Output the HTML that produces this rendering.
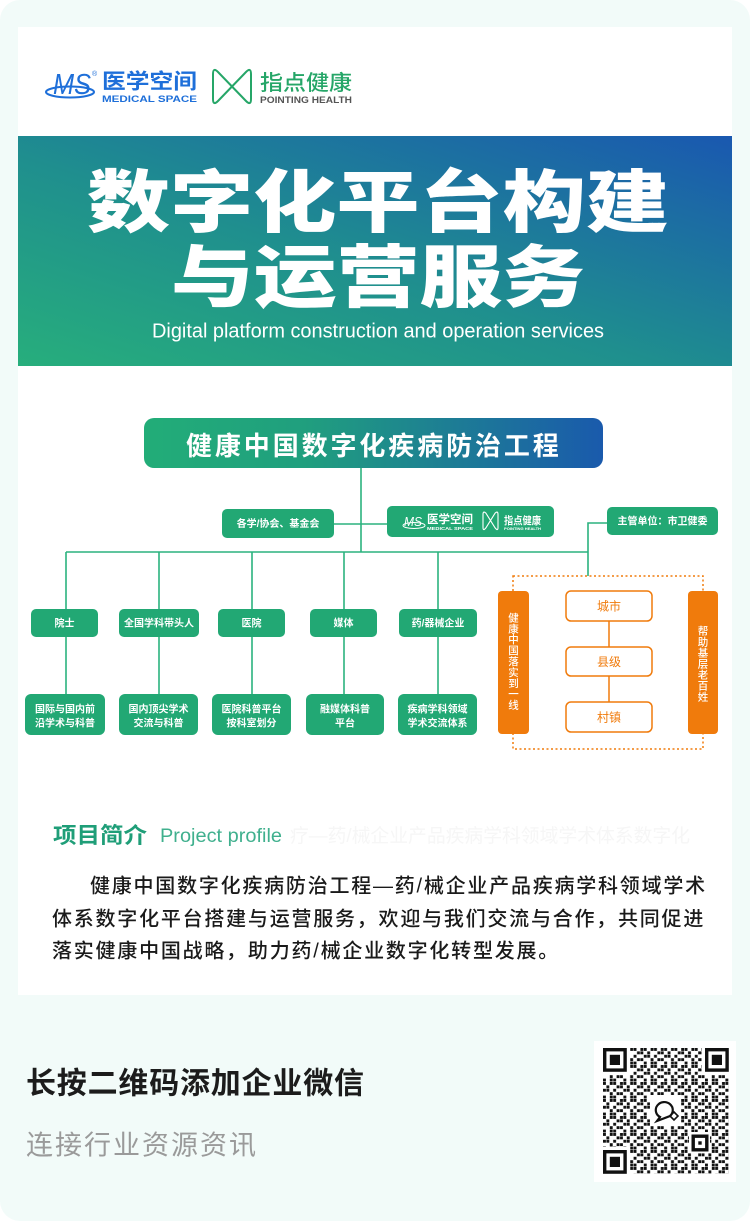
<!DOCTYPE html>
<html><head><meta charset="utf-8"><style>
html,body{margin:0;padding:0;background:#fff;}
svg{display:block;}
text{font-family:"Liberation Sans","Noto Sans CJK SC",sans-serif;}
</style></head><body>
<svg width="750" height="1221" viewBox="0 0 750 1221" xmlns="http://www.w3.org/2000/svg">
<defs>
<linearGradient id="ban" x1="0" y1="1" x2="1" y2="0">
<stop offset="0" stop-color="#27ae7c"/><stop offset="0.45" stop-color="#1f8f8e"/><stop offset="1" stop-color="#1a58b0"/>
</linearGradient>
<linearGradient id="tbox" x1="0" y1="0" x2="1" y2="0">
<stop offset="0" stop-color="#22ad78"/><stop offset="0.35" stop-color="#209f7e"/><stop offset="1" stop-color="#1a5aac"/>
</linearGradient>
<pattern id="qr" x="603" y="1048" width="20.4" height="17" patternUnits="userSpaceOnUse">
<g fill="#111">
<rect x="0" y="0" width="2.9" height="2.9"/><rect x="6.8" y="0" width="2.9" height="2.9"/><rect x="10.2" y="0" width="2.9" height="2.9"/><rect x="17" y="0" width="2.9" height="2.9"/>
<rect x="3.4" y="3.4" width="2.9" height="2.9"/><rect x="13.6" y="3.4" width="2.9" height="2.9"/><rect x="17" y="3.4" width="2.9" height="2.9"/>
<rect x="0" y="6.8" width="2.9" height="2.9"/><rect x="3.4" y="6.8" width="2.9" height="2.9"/><rect x="10.2" y="6.8" width="2.9" height="2.9"/>
<rect x="6.8" y="10.2" width="2.9" height="2.9"/><rect x="13.6" y="10.2" width="2.9" height="2.9"/><rect x="17" y="10.2" width="2.9" height="2.9"/>
<rect x="0" y="13.6" width="2.9" height="2.9"/><rect x="6.8" y="13.6" width="2.9" height="2.9"/><rect x="10.2" y="13.6" width="2.9" height="2.9"/>
</g>
</pattern>
</defs>

<!-- page background -->
<rect x="0" y="0" width="750" height="1221" rx="20" fill="#f2fbf9"/>
<!-- card -->
<rect x="18" y="27" width="714" height="968" fill="#ffffff"/>

<!-- top logos -->
<g>
<ellipse cx="70" cy="92" rx="24" ry="5.5" fill="none" stroke="#1e6fd9" stroke-width="2"/>
<text x="53" y="94" font-size="29" fill="#1e6fd9" textLength="38" lengthAdjust="spacingAndGlyphs" font-style="italic">MS</text>
<text x="92" y="76" font-size="7" fill="#1e6fd9">®</text>
<text x="102" y="88.5" font-size="21" font-weight="700" fill="#1e6fd9" textLength="95" lengthAdjust="spacingAndGlyphs">医学空间</text>
<text x="102" y="102" font-size="9.5" font-weight="700" fill="#1e6fd9" textLength="95" lengthAdjust="spacingAndGlyphs">MEDICAL SPACE</text>
<path d="M213,74 Q213,67 218,72 L246,101 Q251,106 251,99 L251,74 Q251,67 246,72 L218,101 Q213,106 213,99 Z" fill="none" stroke="#26a668" stroke-width="2"/>
<text x="260" y="90" font-size="21" fill="#26a668" font-weight="500" textLength="92" lengthAdjust="spacingAndGlyphs">指点健康</text>
<text x="260" y="103" font-size="9.5" font-weight="700" fill="#555" textLength="92" lengthAdjust="spacingAndGlyphs">POINTING HEALTH</text>
</g>

<!-- banner -->
<rect x="18" y="136" width="714" height="230" fill="url(#ban)"/>
<text x="87" y="226.5" font-size="68" font-weight="900" fill="#ffffff" textLength="582" lengthAdjust="spacingAndGlyphs">数字化平台构建</text>
<text x="171" y="301.5" font-size="68" font-weight="900" fill="#ffffff" textLength="414" lengthAdjust="spacingAndGlyphs">与运营服务</text>
<text x="152" y="337.5" font-size="20" fill="#ffffff" textLength="452" lengthAdjust="spacingAndGlyphs">Digital platform construction and operation services</text>

<!-- diagram title -->
<rect x="144" y="418" width="459" height="50" rx="10" fill="url(#tbox)"/>
<text x="186" y="455" font-size="26" font-weight="700" fill="#ffffff" letter-spacing="2.9">健康中国数字化疾病防治工程</text>

<!-- connectors -->
<g stroke="#2bb27f" stroke-width="1.6" fill="none">
<line x1="361" y1="468" x2="361" y2="552"/>
<line x1="334" y1="524" x2="387" y2="524"/>
<line x1="66" y1="552" x2="588" y2="552"/>
<polyline points="588,576 588,523 607,523"/>
<line x1="66" y1="552" x2="66" y2="609"/>
<line x1="159" y1="552" x2="159" y2="609"/>
<line x1="252" y1="552" x2="252" y2="609"/>
<line x1="344" y1="552" x2="344" y2="609"/>
<line x1="438" y1="552" x2="438" y2="609"/>
<line x1="66" y1="637" x2="66" y2="694"/>
<line x1="159" y1="637" x2="159" y2="694"/>
<line x1="252" y1="637" x2="252" y2="694"/>
<line x1="344" y1="637" x2="344" y2="694"/>
<line x1="438" y1="637" x2="438" y2="694"/>
</g>

<!-- level 1 boxes -->
<g fill="#22a874">
<rect x="222" y="509" width="112" height="29" rx="5"/>
<rect x="387" y="506" width="167" height="31" rx="5"/>
<rect x="607" y="507" width="111" height="28" rx="5"/>
</g>
<text x="278" y="527.2" font-size="10" font-weight="700" fill="#fff" text-anchor="middle">各学/协会、基金会</text>
<text x="662.5" y="524.7" font-size="10" font-weight="700" fill="#fff" text-anchor="middle">主管单位：市卫健委</text>
<!-- mini logo -->
<g>
<ellipse cx="414" cy="525.5" rx="11" ry="3" fill="none" stroke="#fff" stroke-width="1"/>
<text x="404" y="526" font-size="13" fill="#fff" textLength="18" lengthAdjust="spacingAndGlyphs" font-style="italic">MS</text>
<text x="427" y="523" font-size="11.5" font-weight="700" fill="#fff" textLength="46" lengthAdjust="spacingAndGlyphs">医学空间</text>
<text x="427" y="530" font-size="4.5" font-weight="700" fill="#fff" textLength="46" lengthAdjust="spacingAndGlyphs">MEDICAL SPACE</text>
<path d="M483,514.5 Q483,510.5 485.8,513 L495.2,528 Q498,531.5 498,527.5 L498,514.5 Q498,510.5 495.2,513 L485.8,528 Q483,531.5 483,527.5 Z" fill="none" stroke="#fff" stroke-width="1.1"/>
<text x="504" y="524" font-size="10.5" font-weight="700" fill="#fff" textLength="37" lengthAdjust="spacingAndGlyphs">指点健康</text>
<text x="504" y="530" font-size="3.8" font-weight="700" fill="#fff" textLength="37" lengthAdjust="spacingAndGlyphs">POINTING HEALTH</text>
</g>

<!-- level 2 boxes -->
<g fill="#22a874">
<rect x="31" y="609" width="67" height="28" rx="5"/>
<rect x="119" y="609" width="80" height="28" rx="5"/>
<rect x="218" y="609" width="67" height="28" rx="5"/>
<rect x="310" y="609" width="67" height="28" rx="5"/>
<rect x="399" y="609" width="78" height="28" rx="5"/>
</g>
<g font-size="10" font-weight="700" fill="#fff" text-anchor="middle">
<text x="64.5" y="626.7">院士</text>
<text x="159" y="626.7">全国学科带头人</text>
<text x="251.5" y="626.7">医院</text>
<text x="343.5" y="626.7">媒体</text>
<text x="438" y="626.7">药/器械企业</text>
</g>

<!-- level 3 boxes -->
<g fill="#22a874">
<rect x="25" y="694" width="80" height="41" rx="6"/>
<rect x="119" y="694" width="79" height="41" rx="6"/>
<rect x="212" y="694" width="79" height="41" rx="6"/>
<rect x="306" y="694" width="78" height="41" rx="6"/>
<rect x="398" y="694" width="79" height="41" rx="6"/>
</g>
<g font-size="10" font-weight="700" fill="#fff" text-anchor="middle">
<text x="65" y="712.7">国际与国内前</text><text x="65" y="726.7">沿学术与科普</text>
<text x="158.5" y="712.7">国内顶尖学术</text><text x="158.5" y="726.7">交流与科普</text>
<text x="251.5" y="712.7">医院科普平台</text><text x="251.5" y="726.7">按科室划分</text>
<text x="345" y="712.7">融媒体科普</text><text x="345" y="726.7">平台</text>
<text x="437.5" y="712.7">疾病学科领域</text><text x="437.5" y="726.7">学术交流体系</text>
</g>

<!-- orange section -->
<rect x="513" y="576" width="190" height="173" fill="none" stroke="#f07b0c" stroke-width="1.5" stroke-dasharray="2 2.5"/>
<g stroke="#f07b0c" stroke-width="1.5">
<line x1="609" y1="621" x2="609" y2="647"/>
<line x1="609" y1="676" x2="609" y2="702"/>
</g>
<rect x="498" y="591" width="31" height="143" rx="4" fill="#f07b0c"/>
<rect x="688" y="591" width="30" height="143" rx="4" fill="#f07b0c"/>
<g fill="#fff" stroke="#f07b0c" stroke-width="1.5">
<rect x="566" y="591" width="86" height="30" rx="5"/>
<rect x="566" y="647" width="86" height="29" rx="5"/>
<rect x="566" y="702" width="86" height="30" rx="5"/>
</g>
<g font-size="12" fill="#f07b0c" text-anchor="middle">
<text x="609" y="610.4">城市</text>
<text x="609" y="666">县级</text>
<text x="609" y="721.4">村镇</text>
</g>
<g font-size="10.5" font-weight="500" fill="#fff" text-anchor="middle">
<text x="513.5" y="621.4">健</text><text x="513.5" y="632.3">康</text><text x="513.5" y="643.2">中</text><text x="513.5" y="654.1">国</text><text x="513.5" y="665">落</text><text x="513.5" y="675.9">实</text><text x="513.5" y="686.8">到</text><text x="513.5" y="697.7">一</text><text x="513.5" y="708.6">线</text>
<text x="703" y="634.5">帮</text><text x="703" y="645.5">助</text><text x="703" y="656.5">基</text><text x="703" y="667.5">层</text><text x="703" y="678.5">老</text><text x="703" y="689.5">百</text><text x="703" y="700.5">姓</text>
</g>

<!-- project profile -->
<text x="290" y="842" font-size="19" fill="#f6f6f6" textLength="400" lengthAdjust="spacingAndGlyphs">疗—药/械企业产品疾病学科领域学术体系数字化</text>
<text x="53" y="843" font-size="22" font-weight="700" fill="#1f9e78" textLength="94" lengthAdjust="spacingAndGlyphs">项目简介</text>
<text x="160" y="842" font-size="19" fill="#40b08e" textLength="122" lengthAdjust="spacingAndGlyphs">Project profile</text>

<g font-size="20" fill="#1a1a1a" font-weight="500" letter-spacing="1.77">
<text x="90" y="892.4">健康中国数字化疾病防治工程—药/械企业产品疾病学科领域学术</text>
<text x="52" y="925.4">体系数字化平台搭建与运营服务，欢迎与我们交流与合作，共同促进</text>
<text x="52" y="957.4">落实健康中国战略，助力药/械企业数字化转型发展。</text>
</g>

<!-- footer -->
<text x="26" y="1093.6" font-size="30" font-weight="700" fill="#1c1c1c" letter-spacing="0.8">长按二维码添加企业微信</text>
<text x="26" y="1154.5" font-size="27" fill="#9a9a9a" letter-spacing="2">连接行业资源资讯</text>

<!-- QR -->
<rect x="594" y="1041" width="142" height="141" fill="#fff"/>
<rect x="603" y="1048" width="125.8" height="125.8" fill="url(#qr)"/>
<g fill="#fff">
<rect x="601" y="1046" width="29" height="29"/>
<rect x="702" y="1046" width="29" height="29"/>
<rect x="601" y="1147" width="29" height="29"/>
<rect x="689" y="1132" width="21" height="21"/>
<rect x="650" y="1095" width="31" height="31"/>
</g>
<g>
<rect x="603" y="1048" width="23.8" height="23.8" fill="#111"/><rect x="606.4" y="1051.4" width="17" height="17" fill="#fff"/><rect x="609.8" y="1054.8" width="10.2" height="10.2" fill="#111"/>
<rect x="705" y="1048" width="23.8" height="23.8" fill="#111"/><rect x="708.4" y="1051.4" width="17" height="17" fill="#fff"/><rect x="711.8" y="1054.8" width="10.2" height="10.2" fill="#111"/>
<rect x="603" y="1150" width="23.8" height="23.8" fill="#111"/><rect x="606.4" y="1153.4" width="17" height="17" fill="#fff"/><rect x="609.8" y="1156.8" width="10.2" height="10.2" fill="#111"/>
<rect x="691.5" y="1134.5" width="17" height="17" fill="#111"/><rect x="694.9" y="1137.9" width="10.2" height="10.2" fill="#fff"/><rect x="698.3" y="1141.3" width="3.4" height="3.4" fill="#111"/>
</g>
<g fill="none" stroke="#111" stroke-width="2.2">
<path d="M670,1116 A8.5,8 0 1 0 660,1117 L657,1121 Z"/>
<path d="M674,1112 L678,1116 L674,1120 L670,1116 Z" stroke-width="1.6"/>
</g>
</svg>
</body></html>
